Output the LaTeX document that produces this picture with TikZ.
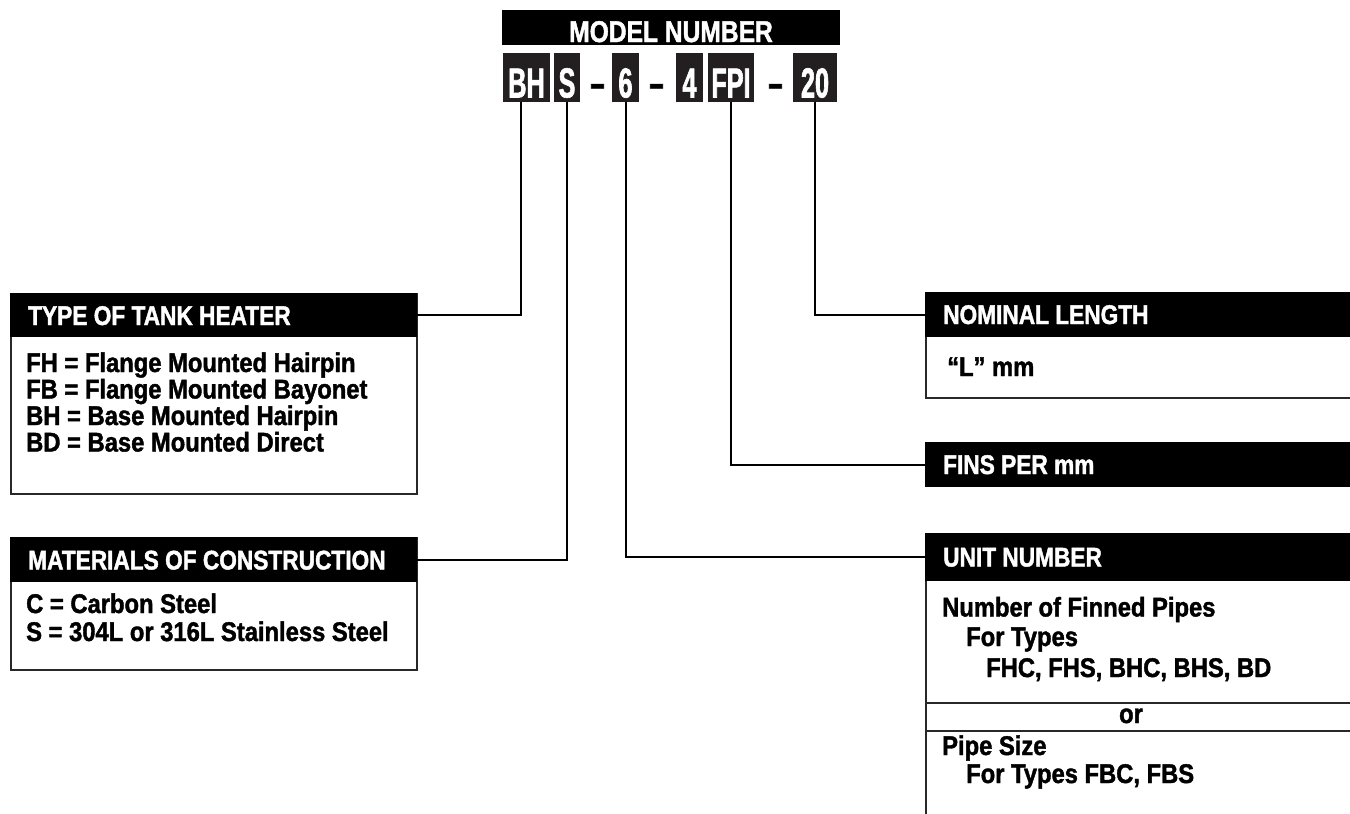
\documentclass[tikz,border=0pt]{standalone}
\usepackage{fontspec}
\setmainfont{Liberation Sans}
\newfontfamily\hdrf{Liberation Sans Bold}[FakeStretch=0.84, RawFeature={embolden=1.5}]
\newfontfamily\bodyf{Liberation Sans Bold}[FakeStretch=0.88, RawFeature={embolden=1.5}]
\newfontfamily\codef{Liberation Sans Bold}[FakeStretch=0.6, RawFeature={embolden=1.5}]
\newfontfamily\modelf{Liberation Sans Bold}[FakeStretch=0.82, RawFeature={embolden=1.5}]
\definecolor{codefill}{RGB}{35,31,32}
\definecolor{boxline}{RGB}{40,40,40}
\begin{document}
\begin{tikzpicture}[x=1pt,y=-1pt,
  outline/.style={draw=boxline, line width=1.6pt, fill=white, inner sep=0, anchor=north west},
  hdrband/.style={fill=black, draw=black, line width=1pt, inner sep=0, anchor=north west},
  htext/.style={text=white, anchor=base west, inner sep=0, font=\hdrf\fontsize{27}{27}\selectfont},
  btext/.style={text=black, anchor=base west, inner sep=0, font=\bodyf\fontsize{27}{27}\selectfont},
  codebox/.style={fill=codefill, text=white, inner sep=0, minimum height=49pt, text height=40pt, text depth=0pt, font=\codef\fontsize{42}{42}\selectfont},
  dashtext/.style={text=black, anchor=base, inner sep=0, font=\codef\fontsize{42}{42}\selectfont},
  conn/.style={draw=black, line width=2pt},
  divider/.style={draw=boxline, line width=1.6pt}
]
\useasboundingbox (0,0) rectangle (1350,814);
\clip (0,0) rectangle (1350,814);

% ---- Model number ----
\node[fill=black, text=white, inner sep=0, minimum width=338pt, minimum height=35pt,
      text height=29pt, text depth=0pt, font=\modelf\fontsize{30}{30}\selectfont]
      (model) at (671,27.5) {MODEL NUMBER};

\node[codebox, minimum width=47pt] (bh)  at (526.5,77.5) {BH};
\node[codebox, minimum width=26pt] (s)   at (567,77.5) {S};
\node[dashtext] (d1) at (597.5,97.5) {–};
\node[codebox, minimum width=27pt] (six) at (625.5,77.5) {6};
\node[dashtext] (d2) at (656.5,97.5) {–};
\node[codebox, minimum width=27pt] (four) at (689.5,77.5) {4};
\node[codebox, minimum width=46pt] (fpi) at (731,77.5) {FPI};
\node[dashtext] (d3) at (775.5,97.5) {–};
\node[codebox, minimum width=44pt] (tw)  at (815,77.5) {20};

% ---- Type of tank heater ----
\node[outline, minimum width=406pt, minimum height=200pt] (type) at (10,293) {};
\node[hdrband, minimum width=406pt, minimum height=43pt] (typeh) at (10,293) {};
\node[htext] (typet) at (28,325) {TYPE OF TANK HEATER};
\node[btext] (t1) at (26,372) {FH = Flange Mounted Hairpin};
\node[btext] (t2) at (26,398.5) {FB = Flange Mounted Bayonet};
\node[btext] (t3) at (26,425) {BH = Base Mounted Hairpin};
\node[btext] (t4) at (26,451.5) {BD = Base Mounted Direct};

% ---- Materials of construction ----
\node[outline, minimum width=406pt, minimum height=132pt] (mat) at (10,537) {};
\node[hdrband, minimum width=406pt, minimum height=44pt] (math) at (10,537) {};
\node[htext] (matt) at (28,569.5) {MATERIALS OF CONSTRUCTION};
\node[btext] (m1) at (26,613) {C = Carbon Steel};
\node[btext] (m2) at (26,641) {S = 304L or 316L Stainless Steel};

% ---- Nominal length ----
\node[outline, minimum width=440pt, minimum height=105pt] (nom) at (925,292) {};
\node[hdrband, minimum width=440pt, minimum height=44pt] (nomh) at (925,292) {};
\node[htext] (nomt) at (943,324) {NOMINAL LENGTH};
\node[btext] (n1) at (947,376) {“L” mm};

% ---- Fins per mm ----
\node[hdrband, minimum width=440pt, minimum height=44pt] (finsh) at (925,442) {};
\node[htext] (finst) at (943,474) {FINS PER mm};

% ---- Unit number ----
\node[outline, minimum width=440pt, minimum height=300pt] (unit) at (925,533) {};
\node[hdrband, minimum width=440pt, minimum height=47pt] (unith) at (925,533) {};
\node[htext] (unitt) at (943,566.5) {UNIT NUMBER};
\node[btext] (u1) at (942,616.5) {Number of Finned Pipes};
\node[btext] (u2) at (966,646) {For Types};
\node[btext] (u3) at (986,677) {FHC, FHS, BHC, BHS, BD};
\draw[divider] (925,703) -- (1360,703);
\node[btext, anchor=base] (u4) at (1131,723) {or};
\draw[divider] (925,731) -- (1360,731);
\node[btext] (u5) at (942,755) {Pipe Size};
\node[btext] (u6) at (966,783) {For Types FBC, FBS};

% ---- Connectors ----
\draw[conn] ([xshift=-6pt]bh.south) |- (typeh.east);
\draw[conn] (s.south) |- (math.east);
\draw[conn] (six.south) |- (unith.west);
\draw[conn] (fpi.south) |- (finsh.west);
\draw[conn] (tw.south) |- (nomh.west);
\end{tikzpicture}
\end{document}
